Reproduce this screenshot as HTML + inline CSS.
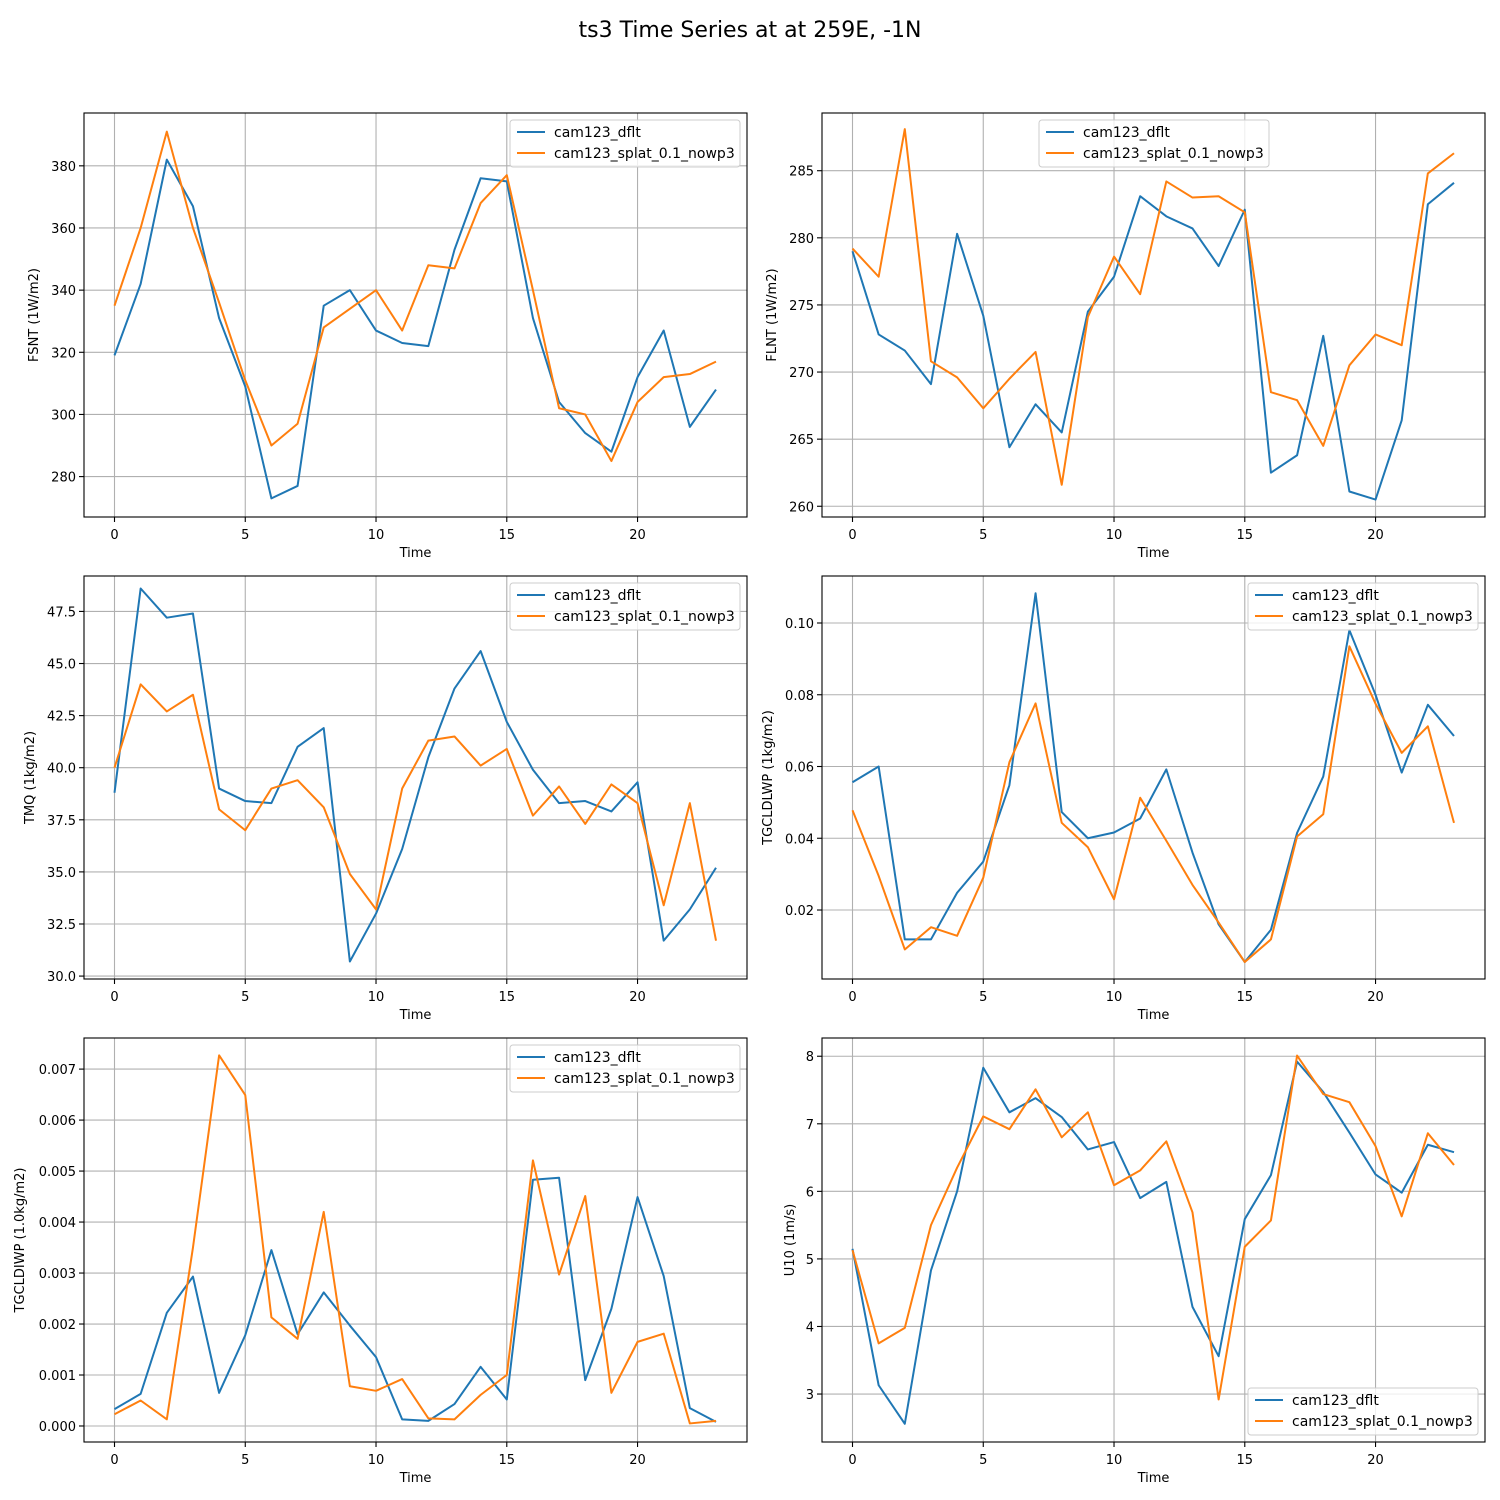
<!DOCTYPE html>
<html><head><meta charset="utf-8">
<style>
html,body{margin:0;padding:0;background:#fff;}
svg{display:block;font-family:"DejaVu Sans","Liberation Sans",sans-serif;}
</style></head>
<body>
<svg id="fig" width="1500" height="1500" viewBox="0 0 1500 1500" xmlns="http://www.w3.org/2000/svg">
<rect width="1500" height="1500" fill="#fff"/>
<text x="750" y="37" text-anchor="middle" font-size="22">ts3 Time Series at at 259E, -1N</text>
</svg>
<script>
const times = [0,1,2,3,4,5,6,7,8,9,10,11,12,13,14,15,16,17,18,19,20,21,22,23];
const xTicks = [0,5,10,15,20];
const seriesNames = ["cam123_dflt","cam123_splat_0.1_nowp3"];

const fsntDflt = [319,342,382,367,331,309,273,277,335,340,327,323,322,353,376,375,331,304,294,288,312,327,296,308];
const fsntSplat = [335,360,391,360,336,311,290,297,328,334,340,327,348,347,368,377,340,302,300,285,304,312,313,317];
const fsntTicks = [280,300,320,340,360,380];

const flntDflt = [279,272.8,271.6,269.1,280.3,274.2,264.4,267.6,265.5,274.5,277.1,283.1,281.6,280.7,277.9,282.1,262.5,263.8,272.7,261.1,260.5,266.4,282.5,284.1];
const flntSplat = [279.2,277.1,288.1,270.8,269.6,267.3,269.5,271.5,261.6,274.1,278.6,275.8,284.2,283.0,283.1,281.9,268.5,267.9,264.5,270.5,272.8,272.0,284.8,286.3];
const flntTicks = [260,265,270,275,280,285];

const tmqDflt = [38.8,48.6,47.2,47.4,39.0,38.4,38.3,41.0,41.9,30.7,33.0,36.1,40.5,43.8,45.6,42.2,39.9,38.3,38.4,37.9,39.3,31.7,33.2,35.2];
const tmqSplat = [40.0,44.0,42.7,43.5,38.0,37.0,39.0,39.4,38.1,34.9,33.2,39.0,41.3,41.5,40.1,40.9,37.7,39.1,37.3,39.2,38.3,33.4,38.3,31.7];
const tmqTicks = [30,32.5,35,37.5,40,42.5,45,47.5];

const lwpDflt = [.0556,.0600,.0118,.0118,.0248,.0335,.0548,.1083,.0473,.0400,.0416,.0455,.0592,.0360,.0160,.0055,.0145,.0415,.0572,.0980,.0800,.0583,.0772,.0685];
const lwpSplat = [.0478,.0295,.0090,.0152,.0128,.0290,.0612,.0776,.0443,.0375,.0230,.0513,.0393,.0270,.0165,.0055,.0118,.0405,.0467,.0935,.0775,.0638,.0712,.0443];
const lwpTicks = [0.02,0.04,0.06,0.08,0.10];

const iwpDflt = [.00033,.00063,.00222,.00293,.00065,.00178,.00345,.00180,.00262,.00197,.00135,.00013,.00010,.00043,.00116,.00052,.00483,.00487,.00090,.00230,.00449,.00294,.00035,.00008];
const iwpSplat = [.00023,.00050,.00013,.00350,.00727,.00649,.00213,.00171,.00420,.00078,.00069,.00092,.00015,.00013,.00061,.00100,.00521,.00297,.00451,.00065,.00165,.00181,.00005,.00010];
const iwpTicks = [0,0.001,0.002,0.003,0.004,0.005,0.006,0.007];

const u10Dflt = [5.15,3.13,2.56,4.83,6.0,7.83,7.17,7.38,7.10,6.62,6.73,5.90,6.14,4.29,3.56,5.59,6.24,7.92,7.47,6.87,6.25,5.98,6.69,6.58];
const u10Splat = [5.13,3.75,3.98,5.50,6.35,7.11,6.92,7.51,6.80,7.17,6.09,6.31,6.74,5.69,2.92,5.18,5.57,8.01,7.44,7.32,6.67,5.63,6.86,6.39];
const u10Ticks = [3,4,5,6,7,8];

const NS = "http://www.w3.org/2000/svg";
const svg = document.getElementById("fig");
function mk(tag, attrs, parent){
  const e = document.createElementNS(NS, tag);
  for (const k in attrs) e.setAttribute(k, attrs[k]);
  (parent||svg).appendChild(e);
  return e;
}
const colors = ["#1f77b4","#ff7f0e"];

function panel(name, box, ylim, ticks, dec, ylabel, ylabelX, d1, d2, legend){
  const [L,T,R,B] = box;
  const g = mk("g", {});
  
  
  const xs = v => L + 30.5 + (v - 0) * (601.5/23);
  const ys = v => B - (v - ylim[0]) / (ylim[1]-ylim[0]) * (B - T);
  xTicks.forEach(t=>{
    const x = xs(t);
    const gl = mk("line",{x1:x,x2:x,y1:T,y2:B,stroke:"#b0b0b0","stroke-width":1.1},g);
    
    
    mk("line",{x1:x,x2:x,y1:B,y2:B+5,stroke:"#000","stroke-width":1.1},g);
    const tl = mk("text",{x:x,y:B+22,"text-anchor":"middle","font-size":13},g);
    
    
    tl.textContent = t;
  });
  ticks.forEach(t=>{
    const y = ys(t);
    const gl = mk("line",{x1:L,x2:R,y1:y,y2:y,stroke:"#b0b0b0","stroke-width":1.1},g);
    
    
    mk("line",{x1:L-5,x2:L,y1:y,y2:y,stroke:"#000","stroke-width":1.1},g);
    const tl = mk("text",{x:L-8,y:y+5,"text-anchor":"end","font-size":13},g);
    
    
    tl.textContent = t.toFixed(dec);
  });
  [d1,d2].forEach((d,i)=>{
    const p = mk("polyline",{points:d.map((v,j)=>xs(times[j]).toFixed(2)+","+ys(v).toFixed(2)).join(" "),fill:"none",stroke:colors[i],"stroke-width":2,"stroke-linejoin":"round"},g);
    
    
  });
  const frame = mk("rect",{x:L,y:T,width:R-L,height:B-T,fill:"none",stroke:"#000","stroke-width":1.1},g);
  
  
  const xl = mk("text",{x:(L+R)/2,y:B+40,"text-anchor":"middle","font-size":13},g);
  
  
  xl.textContent = "Time";
  const cy = (T+B)/2;
  const yl = mk("text",{x:ylabelX,y:cy,"text-anchor":"middle","font-size":13,transform:`rotate(-90 ${ylabelX} ${cy})`},g);
  
  
  yl.textContent = ylabel;
  const [lx,ly,lw] = legend;
  const lg = mk("g",{},g);
  
  
  mk("rect",{x:lx,y:ly,width:lw,height:47,rx:3,fill:"#fff","fill-opacity":0.8,stroke:"#ccc"},lg);
  seriesNames.forEach((s,i)=>{
    const yy = ly + 12 + i*21;
    mk("line",{x1:lx+7,x2:lx+35,y1:yy,y2:yy,stroke:colors[i],"stroke-width":2},lg);
    const t = mk("text",{x:lx+44,y:yy+5,"font-size":14},lg);
    
    
    t.textContent = s;
  });
}
panel("fsnt",[84,113,747,517],[267,397],fsntTicks,0,"FSNT (1W/m2)",38,fsntDflt,fsntSplat,[510,120,230]);
panel("flnt",[822,113,1485,517],[259.2,289.3],flntTicks,0,"FLNT (1W/m2)",776,flntDflt,flntSplat,[1039,120,230]);
panel("tmq",[84,576,747,979],[29.86,49.2],tmqTicks,1,"TMQ (1kg/m2)",34,tmqDflt,tmqSplat,[510,583,230]);
panel("tgcldlwp",[822,576,1485,979],[0.00077,0.1131],lwpTicks,2,"TGCLDLWP (1kg/m2)",772,lwpDflt,lwpSplat,[1248,583,230]);
panel("tgcldiwp",[84,1038,747,1442],[-0.000314,0.00761],iwpTicks,3,"TGCLDIWP (1.0kg/m2)",24,iwpDflt,iwpSplat,[510,1045,230]);
panel("u10",[822,1038,1485,1442],[2.29,8.27],u10Ticks,0,"U10 (1m/s)",794,u10Dflt,u10Splat,[1248,1388,230]);
</script>
</body></html>
